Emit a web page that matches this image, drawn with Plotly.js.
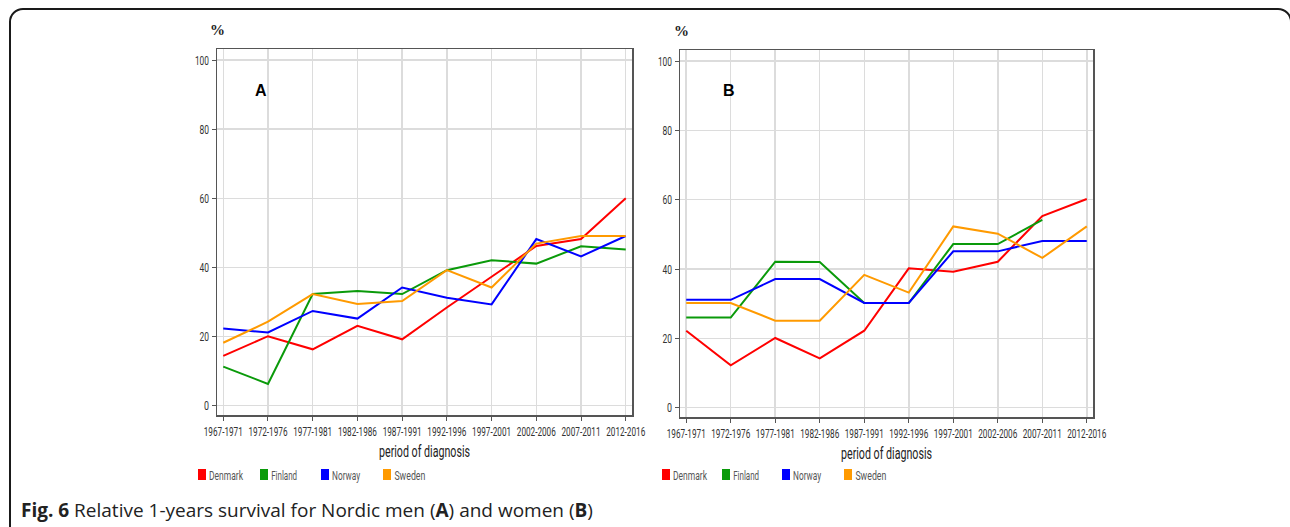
<!DOCTYPE html>
<html>
<head>
<meta charset="utf-8">
<script src="https://cdn.plot.ly/plotly-3.0.1.min.js"></script>
<style>
  html, body { margin: 0; padding: 0; background: #fff; overflow: hidden; }
  #frame { position: absolute; left: 9px; top: 8px; width: 1283px; height: 560px;
           border: 2px solid #1a1a1a; border-radius: 14px; box-sizing: border-box; }
  #chart { position: absolute; left: 0; top: 0; width: 1290px; height: 527px; }
</style>
</head>
<body>
<div id="frame"></div>
<div id="chart"></div>
<script>
// ---- data ----
const periods = ["1967-1971","1972-1976","1977-1981","1982-1986","1987-1991",
                 "1992-1996","1997-2001","2002-2006","2007-2011","2012-2016"];
const countries = ["Denmark","Finland","Norway","Sweden"];
const colors = ["#ff0000","#0a9a0a","#0000ff","#ff9a00"];

// Panel A: men
const menDenmark = [14.4, 20.1, 16.3, 23.1, 19.2, 28.4, 37.3, 46.2, 48.2, 60.0];
const menFinland = [11.3, 6.3, 32.3, 33.2, 32.3, 39.2, 42.1, 41.1, 46.1, 45.2];
const menNorway  = [22.3, 21.2, 27.4, 25.2, 34.2, 31.2, 29.3, 48.2, 43.2, 49.1];
const menSweden  = [18.2, 24.3, 32.3, 29.4, 30.3, 39.2, 34.2, 46.9, 49.1, 49.1];

// Panel B: women
const womenDenmark = [22.2, 12.2, 20.1, 14.2, 22.2, 40.2, 39.2, 42.1, 55.3, 60.2];
const womenFinland = [26.0, 26.0, 42.1, 42.0, 30.2, 30.2, 47.2, 47.2, 54.2, null];
const womenNorway  = [31.1, 31.1, 37.1, 37.1, 30.2, 30.2, 45.1, 45.1, 48.1, 48.1];
const womenSweden  = [30.2, 30.2, 25.1, 25.1, 38.3, 33.2, 52.3, 50.2, 43.2, 52.3];

const yTicks = [0, 20, 40, 60, 80, 100];

const menSeries = [menDenmark, menFinland, menNorway, menSweden];
const womenSeries = [womenDenmark, womenFinland, womenNorway, womenSweden];

// ---- traces ----
const traces = [];
countries.forEach((c, i) => {
  traces.push({x: periods, y: menSeries[i], type: 'scatter', mode: 'lines', name: c,
    line: {color: colors[i], width: 2}, xaxis: 'x', yaxis: 'y', showlegend: false,
    connectgaps: false});
});
countries.forEach((c, i) => {
  traces.push({x: periods, y: womenSeries[i], type: 'scatter', mode: 'lines', name: c,
    line: {color: colors[i], width: 2}, xaxis: 'x2', yaxis: 'y2', showlegend: false,
    connectgaps: false});
});

const W = 1290, H = 527;
const px = v => v / W;
const py = v => 1 - v / H;

const condFamily = 'Roboto, "Liberation Sans", sans-serif';
const tickFont = {family: condFamily, size: 13, color: '#333'};

function xAxis(domain, anchor) {
  return {
    domain: domain, anchor: anchor, type: 'category',
    range: [-0.14, 9.14],
    showgrid: true, gridcolor: '#dcdcdc', gridwidth: 1.5,
    showline: true, linecolor: '#555', linewidth: 1.5, mirror: true,
    ticks: 'outside', ticklen: 4, tickcolor: '#555', tickwidth: 1,
    tickfont: tickFont, tickangle: 0, zeroline: false, fixedrange: true,
    title: {text: 'period of diagnosis', standoff: 7,
            font: {family: condFamily, size: 16, color: '#222'}}
  };
}
function yAxis(domain, anchor) {
  return {
    domain: domain, anchor: anchor, range: [-2.7, 103.2],
    tickvals: yTicks, ticktext: yTicks.map(String),
    showgrid: true, gridcolor: '#dcdcdc', gridwidth: 1.5,
    showline: true, linecolor: '#555', linewidth: 1.5, mirror: true,
    ticks: 'outside', ticklen: 4, tickcolor: '#555', tickwidth: 1,
    tickfont: tickFont, zeroline: false, fixedrange: true
  };
}

const annotations = [];
const shapes = [];

// panel letters and % labels
annotations.push({xref: 'paper', yref: 'paper', x: px(261), y: py(91), xanchor: 'center', yanchor: 'middle',
  text: '<b>A</b>', showarrow: false,
  font: {family: 'Liberation Sans, Arial, sans-serif', size: 16, color: '#000'}});
annotations.push({xref: 'paper', yref: 'paper', x: px(729), y: py(91), xanchor: 'center', yanchor: 'middle',
  text: '<b>B</b>', showarrow: false,
  font: {family: 'Liberation Sans, Arial, sans-serif', size: 16, color: '#000'}});
annotations.push({xref: 'paper', yref: 'paper', x: px(217), y: py(30), xanchor: 'center', yanchor: 'middle',
  text: '<b>%</b>', showarrow: false,
  font: {family: 'Liberation Serif, serif', size: 15, color: '#222'}});
annotations.push({xref: 'paper', yref: 'paper', x: px(681), y: py(31), xanchor: 'center', yanchor: 'middle',
  text: '<b>%</b>', showarrow: false,
  font: {family: 'Liberation Serif, serif', size: 15, color: '#222'}});

// legends (square keys)
const legendWidths = {Denmark: 34, Finland: 26, Norway: 28, Sweden: 31};
const legendStartsA = [198, 260, 321, 383];
const legendStartsB = [662, 722, 782, 844];
const legY = 475;
[legendStartsA, legendStartsB].forEach(starts => {
  countries.forEach((c, i) => {
    const x0 = starts[i];
    shapes.push({type: 'rect', xref: 'paper', yref: 'paper',
      x0: px(x0), x1: px(x0 + 8), y0: py(legY + 5), y1: py(legY - 6),
      fillcolor: colors[i], line: {width: 0}});
    annotations.push({xref: 'paper', yref: 'paper', x: px(x0 + 11 + legendWidths[c] / 2), y: py(legY),
      xanchor: 'center', yanchor: 'middle',
      text: c, showarrow: false,
      font: {family: condFamily, size: 13, color: '#555'}});
  });
});

// caption
annotations.push({xref: 'paper', yref: 'paper', x: px(19), y: py(510), xanchor: 'left', yanchor: 'middle',
  text: '<b>Fig. 6</b> Relative 1-years survival for Nordic men (<b>A</b>) and women (<b>B</b>)', showarrow: false,
  font: {family: '"Open Sans", "Noto Sans", sans-serif', size: 19, color: '#222'}});

const layout = {
  width: W, height: H,
  margin: {l: 0, r: 0, t: 0, b: 0},
  paper_bgcolor: 'rgba(0,0,0,0)', plot_bgcolor: '#fff',
  showlegend: false,
  xaxis: xAxis([px(217), px(632)], 'y'),
  yaxis: yAxis([py(415), py(49)], 'x'),
  xaxis2: xAxis([px(680), px(1093)], 'y2'),
  yaxis2: yAxis([py(417), py(50)], 'x2'),
  annotations: annotations,
  shapes: shapes
};

function squeeze(el, w) {
  el.setAttribute('textLength', w);
  el.setAttribute('lengthAdjust', 'spacingAndGlyphs');
}
Plotly.newPlot('chart', traces, layout, {displayModeBar: false, staticPlot: true}).then(gd => {
  gd.querySelectorAll('.xtick text, .x2tick text').forEach(t => squeeze(t, 39));
  gd.querySelectorAll('.ytick text, .y2tick text').forEach(t => {
    const n = t.textContent.trim().length;
    squeeze(t, n === 3 ? 14 : (n === 2 ? 9.5 : 5));
  });
  gd.querySelectorAll('.xtitle, .x2title').forEach(t => squeeze(t, 91));
  gd.querySelectorAll('.annotation-text').forEach(t => {
    const s = t.textContent.trim();
    if (legendWidths[s]) squeeze(t, legendWidths[s]);
  });
});
</script>
</body>
</html>
